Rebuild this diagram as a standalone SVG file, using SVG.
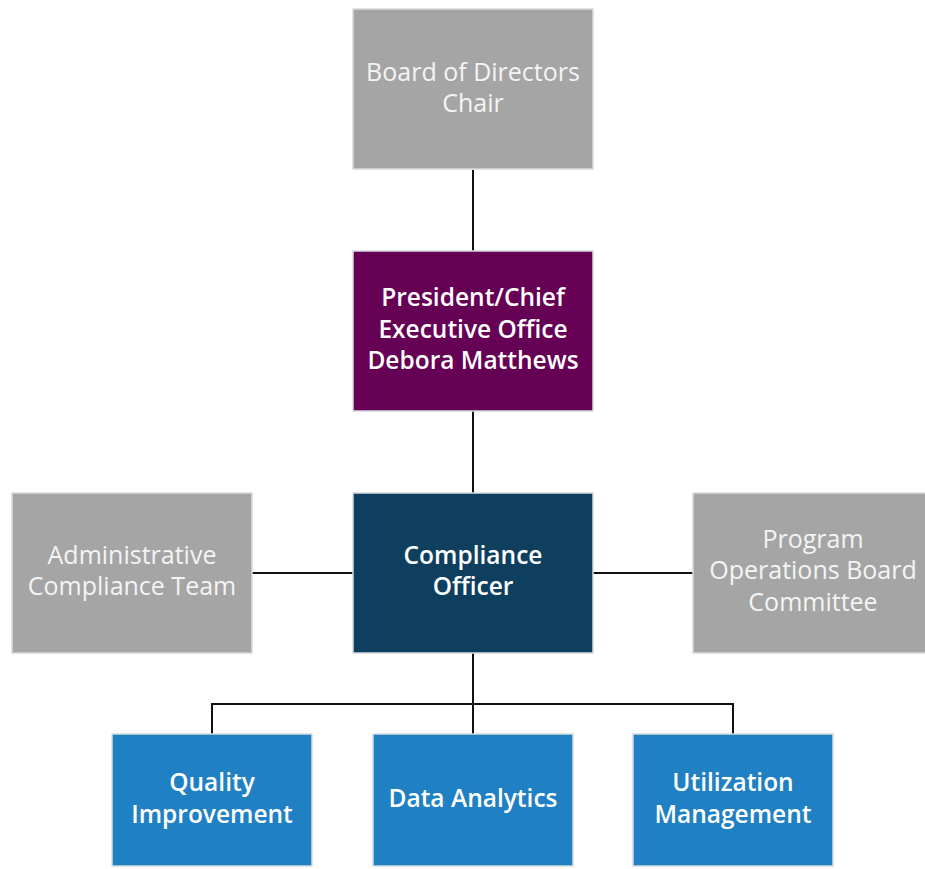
<svg xmlns="http://www.w3.org/2000/svg" width="925" height="869" viewBox="0 0 925 869">
  <style>
    .box { stroke: #d6dbe0; stroke-width: 1.5; }
    .gray { fill: #a5a5a5; }
    .purple { fill: #660055; }
    .navy { fill: #0f3f5f; }
    .blue { fill: #1f80c3; }
    text { font-family: "Open Sans", "Noto Sans", "DejaVu Sans", sans-serif; font-size: 24.5px; text-anchor: middle; fill: #ffffff; }
    .lt { fill: #f4f4f4; font-weight: 500; font-size: 25px; }
    .sb { font-weight: 600; }
    .link { stroke: #111111; stroke-width: 2; fill: none; }
  </style>
  <rect width="925" height="869" fill="#ffffff"/>

  <!-- connectors -->
  <g id="connectors">
    <line class="link" x1="473" y1="170" x2="473" y2="251"/>
    <line class="link" x1="473" y1="411" x2="473" y2="493"/>
    <line class="link" x1="252" y1="573" x2="353" y2="573"/>
    <line class="link" x1="593" y1="573" x2="693" y2="573"/>
    <line class="link" x1="473" y1="653" x2="473" y2="734"/>
    <polyline class="link" points="212,734 212,704 733,704 733,734"/>
  </g>

  <g id="board">
    <rect class="box gray" x="353" y="9" width="240" height="160"/>
    <text class="lt" x="473" y="81">Board of Directors</text>
    <text class="lt" x="473" y="112">Chair</text>
  </g>

  <g id="president">
    <rect class="box purple" x="353" y="251" width="240" height="160"/>
    <text class="sb" x="473" y="306">President/Chief</text>
    <text class="sb" x="473" y="338">Executive Office</text>
    <text class="sb" x="473" y="369">Debora Matthews</text>
  </g>

  <g id="admin-team">
    <rect class="box gray" x="12" y="493" width="240" height="160"/>
    <text class="lt" x="132" y="564">Administrative</text>
    <text class="lt" x="132" y="595">Compliance Team</text>
  </g>

  <g id="compliance-officer">
    <rect class="box navy" x="353" y="493" width="240" height="160"/>
    <text class="sb" x="473" y="564">Compliance</text>
    <text class="sb" x="473" y="595">Officer</text>
  </g>

  <g id="program-ops">
    <rect class="box gray" x="693" y="493" width="240" height="160"/>
    <text class="lt" x="813" y="548">Program</text>
    <text class="lt" x="813" y="579">Operations Board</text>
    <text class="lt" x="813" y="611">Committee</text>
  </g>

  <g id="quality">
    <rect class="box blue" x="112" y="734" width="200" height="132"/>
    <text class="sb" x="212" y="791">Quality</text>
    <text class="sb" x="212" y="823">Improvement</text>
  </g>

  <g id="data-analytics">
    <rect class="box blue" x="373" y="734" width="200" height="132"/>
    <text class="sb" x="473" y="807">Data Analytics</text>
  </g>

  <g id="utilization">
    <rect class="box blue" x="633" y="734" width="200" height="132"/>
    <text class="sb" x="733" y="791">Utilization</text>
    <text class="sb" x="733" y="823">Management</text>
  </g>
</svg>
